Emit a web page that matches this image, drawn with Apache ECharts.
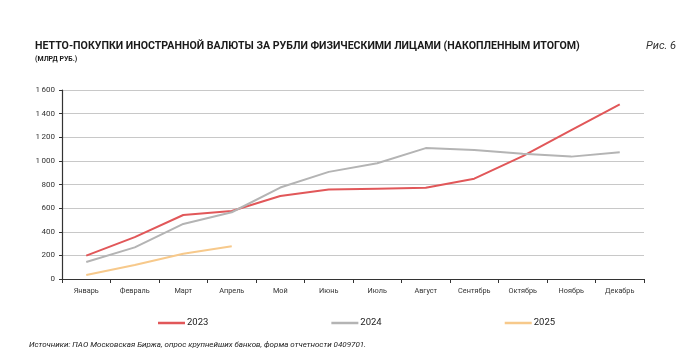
<!DOCTYPE html>
<html>
<head>
<meta charset="utf-8">
<script src="https://cdn.jsdelivr.net/npm/echarts@6/dist/echarts.min.js"></script>
<style>
  html, body { margin: 0; padding: 0; background: #fff; }
  #chart { width: 699px; height: 353px; }
</style>
</head>
<body>
<div id="chart"></div>
<script>
// месяцы по оси X
const months = ["Январь", "Февраль", "Март", "Апрель", "Мой", "Июнь", "Июль", "Август", "Сентябрь", "Октябрь", "Ноябрь", "Декабрь"];

// накопленные нетто-покупки, млрд руб.
const y2023 = [198, 355, 542, 575, 703, 758, 765, 773, 849, 1040, 1260, 1478];
const y2024 = [144, 268, 466, 565, 774, 907, 980, 1108, 1092, 1060, 1036, 1072];
const y2025 = [34, 118, 213, 278];

const yTicks = [0, 200, 400, 600, 800, 1000, 1200, 1400, 1600];

const font = "Roboto, 'Liberation Sans', sans-serif";

const chart = echarts.init(document.getElementById("chart"));

chart.setOption({
  animation: false,
  textStyle: { fontFamily: font },
  title: [
    {
      text: "НЕТТО-ПОКУПКИ ИНОСТРАННОЙ ВАЛЮТЫ ЗА РУБЛИ ФИЗИЧЕСКИМИ ЛИЦАМИ (НАКОПЛЕННЫМ ИТОГОМ)",
      left: 30, top: 36,
      textStyle: { fontFamily: font, fontSize: 10.6, fontWeight: "bold", color: "#1a1a1a" }
    },
    {
      text: "(МЛРД РУБ.)",
      left: 30, top: 51,
      textStyle: { fontFamily: font, fontSize: 7, fontWeight: "bold", color: "#1a1a1a" }
    },
    {
      text: "Рис. 6",
      left: 641, top: 36,
      textStyle: { fontFamily: font, fontSize: 11, fontStyle: "italic", fontWeight: "normal", color: "#333" }
    },
    {
      text: "Источники: ПАО Московская Биржа, опрос крупнейших банков, форма отчетности 0409701.",
      left: 24, top: 336,
      textStyle: { fontFamily: font, fontSize: 8, fontStyle: "italic", fontWeight: "normal", color: "#1a1a1a" }
    }
  ],
  legend: {
    left: 153, top: 313,
    itemWidth: 27, itemHeight: 2.5, itemGap: 123,
    icon: "rect",
    textStyle: { fontFamily: font, fontSize: 9.5, color: "#222", padding: [0, 0, 0, -3] },
    data: ["2023", "2024", "2025"]
  },
  grid: { left: 62, right: 55, top: 90, bottom: 74 },
  xAxis: {
    type: "category",
    data: months,
    boundaryGap: true,
    axisLine: { lineStyle: { color: "#333", width: 1.2 } },
    axisTick: { show: true, length: 4, lineStyle: { color: "#333" } },
    axisLabel: { fontFamily: font, fontSize: 7.3, color: "#333", margin: 9 }
  },
  yAxis: {
    type: "value",
    min: yTicks[0], max: yTicks[yTicks.length - 1], interval: 200,
    axisLine: { show: true, lineStyle: { color: "#333", width: 1.2 } },
    axisTick: { show: true, length: 3, lineStyle: { color: "#333" } },
    axisLabel: { fontFamily: font, fontSize: 8, color: "#333", margin: 7, formatter: v => v >= 1000 ? String(v).replace(/(\d)(\d{3})$/, "$1\u2009$2") : v },
    splitLine: { lineStyle: { color: "#c8c8c8", width: 1 } }
  },
  series: [
    { name: "2023", type: "line", data: y2023, symbol: "none", lineStyle: { color: "#e15759", width: 2 }, itemStyle: { color: "#e15759" } },
    { name: "2024", type: "line", data: y2024, symbol: "none", lineStyle: { color: "#b4b4b4", width: 2 }, itemStyle: { color: "#b4b4b4" } },
    { name: "2025", type: "line", data: y2025, symbol: "none", lineStyle: { color: "#f7c98b", width: 2 }, itemStyle: { color: "#f7c98b" } }
  ]
});
</script>
</body>
</html>
